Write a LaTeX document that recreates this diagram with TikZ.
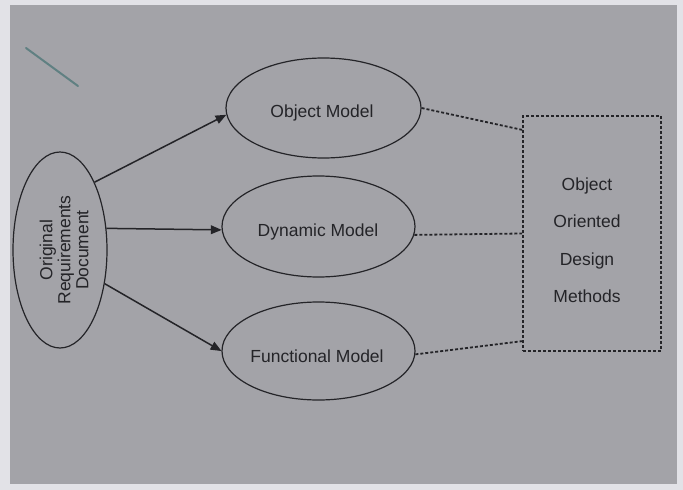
\documentclass[tikz,border=0pt]{standalone}
\usepackage{fontspec}
\setmainfont{Liberation Sans}
\usetikzlibrary{arrows,shapes.geometric}
\definecolor{paper}{RGB}{226,226,231}
\definecolor{scan}{RGB}{163,163,168}
\definecolor{ink}{RGB}{36,36,40}
\definecolor{penmark}{RGB}{96,128,130}

\begin{document}
\begin{tikzpicture}[>=triangle 45,x=1pt,y=-1pt]
			\tikzstyle{every node} = [text=ink,font=\fontsize{17.5}{18}\selectfont];
			\tikzstyle{model} = [ellipse,draw=ink,line width=1.2pt,inner sep=0pt];
			\tikzstyle{link} = [ink,line width=1.8pt,dash pattern=on 3pt off 2pt];
			% scanned page
			\fill[paper] (0,0) rectangle (683,490);
			\fill[scan] (10,5) rectangle (677,484);
			\useasboundingbox (0,0) rectangle (683,490);
			\draw[penmark,line width=2pt,line cap=round] (26,48) -- (78,86);
			% models
			\node[model,minimum width=94pt,minimum height=196pt] (req) at (60,250) {};
			\node[rotate=90,align=center] (reqtxt) at (64,250) {Original\\Requirements\\Document};
			\node[model,minimum width=195pt,minimum height=100pt] (obj) at (323.5,108) {};
			\node (objtxt) at (322,113) {Object Model};
			\node[model,minimum width=193pt,minimum height=101pt] (dyn) at (318.5,226.5) {};
			\node (dyntxt) at (318,232) {Dynamic Model};
			\node[model,minimum width=193pt,minimum height=98pt] (fun) at (318.5,351) {};
			\node (funtxt) at (317,356) {Functional Model};
			% design methods box
			\node[link,draw,minimum width=138pt,minimum height=235pt,inner sep=0pt] (ood) at (592,233.5) {};
			\node[align=center,font=\fontsize{17.5}{37.5}\selectfont] (oodtxt) at (587,240) {Object\\Oriented\\Design\\Methods};
			\draw[->,line width=1.5pt,ink] (req.63) -- (obj.184);
			\draw[->,line width=1.5pt,ink] (req.25) -- (dyn.182);
			\draw[->,line width=1.5pt,ink] (req.-37) -- (fun.west);
			\draw[link] (obj.east) -- (ood.124);
			\draw[link] (dyn.-5) -- (ood.west);
			\draw[link] (fun.-2) -- (ood.237);
		\end{tikzpicture}
\end{document}
